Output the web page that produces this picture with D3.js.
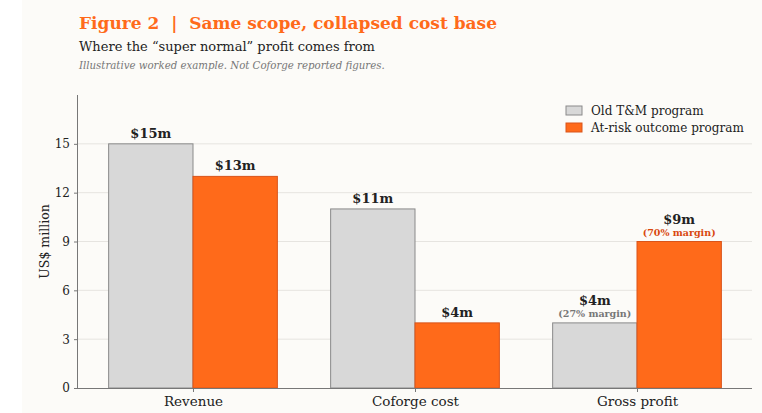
<!DOCTYPE html>
<html>
<head>
<meta charset="utf-8">
<script src="https://cdn.jsdelivr.net/npm/d3@7"></script>
<style>
  html, body { margin: 0; padding: 0; background: #ffffff; }
  svg { display: block; font-family: "DejaVu Serif", serif; }
</style>
</head>
<body>
<div id="chart"></div>
<script>
// Data
const categories = ["Revenue", "Coforge cost", "Gross profit"];
const seriesNames = ["Old T&M program", "At-risk outcome program"];
const oldValues = [15, 11, 4];
const newValues = [13, 4, 9];
const oldNotes = ["", "", "(27% margin)"];
const newNotes = ["", "", "(70% margin)"];
const yTicks = [0, 3, 6, 9, 12, 15];

const width = 762, height = 413;
const margins = { top: 95, right: 10, bottom: 25, left: 78 };
const colors = {
  old: "#d8d8d8", oldStroke: "#8a8a8a",
  neu: "#ff6a1a", neuStroke: "#d9541a",
  title: "#ff6a1a", text: "#222222", muted: "#777777"
};

const svg = d3.select("#chart").append("svg")
  .attr("width", width)
  .attr("height", height);

// figure background
svg.append("rect")
  .attr("x", 22).attr("y", 0)
  .attr("width", width - 22).attr("height", height)
  .attr("fill", "#fcfbf8");

const innerW = width - margins.left - margins.right;
const innerH = height - margins.top - margins.bottom;
const g = svg.append("g").attr("transform", `translate(${margins.left},${margins.top})`);

// Scales: group index on a linear axis (bars 0.38 wide, 5% margins)
const barW = 0.38;
const x = d3.scaleLinear().domain([-0.518, 2.518]).range([0, innerW]);
const y = d3.scaleLinear().domain([0, 18]).range([innerH, 0]);

// Grid
g.append("g").selectAll("line").data(yTicks.filter(d => d > 0)).join("line")
  .attr("x1", 0).attr("x2", innerW)
  .attr("y1", d => y(d)).attr("y2", d => y(d))
  .attr("stroke", "#e6e4e0").attr("stroke-width", 1);

// Bars
const rows = categories.map((c, i) => ({
  i, cat: c, old: oldValues[i], neu: newValues[i], oldNote: oldNotes[i], neuNote: newNotes[i]
}));

const series = [
  { key: "old", offset: -barW, fill: colors.old, stroke: colors.oldStroke, note: "oldNote", noteColor: colors.muted },
  { key: "neu", offset: 0, fill: colors.neu, stroke: colors.neuStroke, note: "neuNote", noteColor: "#d9480f" }
];

series.forEach(s => {
  const bars = g.append("g").attr("class", `bars-${s.key}`);
  bars.selectAll("rect").data(rows).join("rect")
    .attr("x", d => x(d.i + s.offset))
    .attr("y", d => y(d[s.key]))
    .attr("width", x(barW) - x(0))
    .attr("height", d => y(0) - y(d[s.key]))
    .attr("fill", s.fill)
    .attr("stroke", s.stroke)
    .attr("stroke-width", 1);

  const cx = d => x(d.i + s.offset + barW / 2);
  bars.selectAll("text.val").data(rows).join("text")
    .attr("class", "val")
    .attr("x", cx)
    .attr("y", d => y(d[s.key]) - (d[s.note] ? 18 : 6))
    .attr("text-anchor", "middle")
    .attr("font-size", "13px").attr("font-weight", "bold")
    .attr("fill", colors.text)
    .text(d => `$${d[s.key]}m`);

  bars.selectAll("text.note").data(rows.filter(d => d[s.note])).join("text")
    .attr("class", "note")
    .attr("x", cx)
    .attr("y", d => y(d[s.key]) - 6)
    .attr("text-anchor", "middle")
    .attr("font-size", "9.5px").attr("font-weight", "bold")
    .attr("fill", s.noteColor)
    .text(d => d[s.note]);
});

// Axes
const yAxis = g.append("g")
  .call(d3.axisLeft(y).tickValues(yTicks).tickSize(4).tickPadding(4));
yAxis.select(".domain").attr("stroke", "#777").attr("d", `M-0.5,${innerH}V0`);
yAxis.selectAll(".tick line").attr("stroke", "#777");
yAxis.selectAll("text").attr("font-size", "12px").attr("fill", colors.text)
  .attr("font-family", "DejaVu Serif, serif");

const xAxis = g.append("g").attr("transform", `translate(0,${innerH})`)
  .call(d3.axisBottom(x).tickValues(d3.range(categories.length))
    .tickFormat(i => categories[i]).tickSize(4).tickPadding(4));
xAxis.select(".domain").attr("stroke", "#777").attr("d", `M0,0.5H${innerW}`);
xAxis.selectAll(".tick line").attr("stroke", "#777");
xAxis.selectAll("text").attr("font-size", "13.5px").attr("fill", colors.text)
  .attr("font-family", "DejaVu Serif, serif");

// Y label
g.append("text")
  .attr("transform", `translate(-29,${innerH / 2}) rotate(-90)`)
  .attr("text-anchor", "middle")
  .attr("font-size", "12.5px").attr("fill", colors.text)
  .text("US$ million");

// Legend
const legend = svg.append("g").attr("transform", "translate(566,106)");
[colors.old, colors.neu].forEach((c, i) => {
  legend.append("rect")
    .attr("x", 0).attr("y", i * 17)
    .attr("width", 16).attr("height", 9)
    .attr("fill", c)
    .attr("stroke", i === 0 ? colors.oldStroke : colors.neuStroke);
  legend.append("text")
    .attr("x", 25).attr("y", i * 17 + 9)
    .attr("font-size", "12px").attr("fill", colors.text)
    .text(seriesNames[i]);
});

// Titles
svg.append("text")
  .attr("x", 79).attr("y", 29)
  .attr("font-size", "17px").attr("font-weight", "bold")
  .attr("fill", colors.title)
  .attr("xml:space", "preserve")
  .text("Figure 2  |  Same scope, collapsed cost base");
svg.append("text")
  .attr("x", 79).attr("y", 51)
  .attr("font-size", "13px").attr("fill", colors.text)
  .text("Where the \u201Csuper normal\u201D profit comes from");
svg.append("text")
  .attr("x", 79).attr("y", 69)
  .attr("font-size", "10.2px").attr("font-style", "italic")
  .attr("fill", colors.muted)
  .text("Illustrative worked example. Not Coforge reported figures.");
</script>
</body>
</html>
